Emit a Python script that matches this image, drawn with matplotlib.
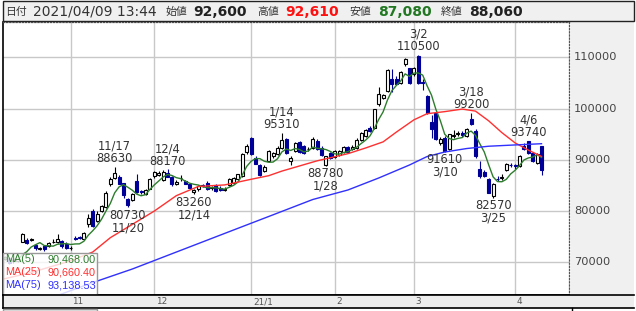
import numpy as np
import pandas as pd
import matplotlib
matplotlib.use('Agg')
import matplotlib.pyplot as plt
from matplotlib.patches import Rectangle
from matplotlib.transforms import blended_transform_factory

plt.rcParams['font.family'] = ['DejaVu Sans', 'Noto Sans CJK JP']

# 営業日 2020/10/06 - 2021/04/09
holidays = ['2020-11-03', '2020-11-23', '2020-12-31', '2021-01-01',
            '2021-01-11', '2021-02-11', '2021-02-23']
days = pd.bdate_range('2020-10-06', '2021-04-09', freq='C', holidays=holidays)

# 四本値 (月ごとに改行)
opens = [70300, 70500, 70800, 71000, 70700, 70900, 70200, 70300, 74050, 74400, 74300, 73350, 72650, 73200, 73200, 73900, 74000, 74200, 73650,
         72700, 74800, 74900, 74500, 77400, 80000, 78100, 80000, 80700, 85200, 86500, 86650, 85400, 82400, 82200, 85800, 83900, 83400, 84400,
         86800, 87000, 86100, 87500, 86700, 85300, 86400, 85900, 85200, 83700, 84250, 85000, 85550, 84500, 85000, 84500, 84200, 85000, 85500, 86200, 86850, 91500,
         94200, 90400, 88900, 87900, 89800, 90700, 91200, 92300, 94000, 89800, 91700, 93400, 92600, 92100, 92300, 93700, 92400, 89000, 91300,
         90600, 91000, 91500, 92500, 92200, 92300, 93900, 94700, 96200, 96300, 100800, 102100, 103400, 105700, 105800, 105000, 108600, 107900,
         106700, 110300, 105200, 102400, 97400, 99100, 93200, 94300, 92050, 94700, 95100, 95200, 94650, 98000, 95700, 88200, 87700, 86300, 83000, 86300, 86400, 88000, 89000,
         88900, 88800, 92700, 93650, 91250, 89300, 92600]
highs = [70800, 71100, 71400, 71300, 71300, 71000, 70600, 70900, 75800, 74650, 74700, 73600, 73000, 73400, 73900, 74600, 75450, 74400, 73900,
         73100, 75100, 75200, 75900, 79400, 80400, 80000, 81200, 83900, 86600, 88630, 87000, 85500, 82600, 83500, 87300, 84200, 84400, 86400,
         87900, 87800, 88000, 88170, 86900, 86000, 87000, 86100, 85300, 84300, 85100, 85300, 85800, 84900, 85300, 84800, 84600, 86400, 86700, 87300, 91300, 93000,
         94500, 90700, 89200, 88900, 91900, 91600, 92600, 95310, 94300, 90700, 93400, 93600, 92800, 92500, 94400, 94000, 92600, 90800, 91500,
         91900, 92000, 92700, 92700, 92800, 94300, 95500, 96000, 96500, 100000, 104300, 102900, 107800, 107800, 106400, 107400, 109900, 108000,
         108200, 110500, 105700, 102700, 98700, 99300, 94500, 94600, 95100, 95800, 95700, 95600, 96300, 99200, 96000, 89800, 88100, 86400, 85500, 86900, 87300, 89400, 89300,
         89200, 90900, 93200, 93740, 91500, 91300, 92610]
lows = [70000, 70200, 70600, 70400, 70500, 69700, 69900, 70000, 73900, 73500, 74100, 72400, 72400, 72300, 73000, 73700, 73800, 72800, 72500,
        72400, 74400, 74500, 74300, 76800, 76800, 77900, 79800, 80500, 84900, 86300, 85200, 82600, 80730, 81900, 83500, 83300, 83200, 84300,
        86500, 86800, 85900, 86600, 84900, 85000, 85900, 85200, 84300, 83260, 84000, 84700, 84200, 84200, 83800, 83900, 83900, 84900, 85400, 86000, 86700, 91100,
        91000, 89100, 86900, 87600, 89600, 90400, 90900, 92100, 91200, 88900, 91500, 91300, 91200, 91800, 92100, 91900, 90800, 88780, 90200,
        90400, 90800, 91300, 91400, 91900, 92100, 93700, 94500, 95400, 96100, 100500, 101800, 103200, 103300, 104700, 104800, 108400, 104800,
        106300, 104700, 103700, 99000, 94300, 93800, 92900, 91610, 91900, 94200, 94700, 94500, 94500, 96700, 90300, 86500, 86600, 83500, 82570, 85900, 86100, 87800, 88500,
        88200, 88600, 92000, 91100, 89600, 89100, 87080]
closes = [70500, 70800, 71000, 70600, 71000, 69900, 70400, 70700, 75450, 73850, 74450, 72700, 72750, 72550, 73700, 74050, 74600, 73100, 72800,
          72800, 74600, 74700, 75650, 78700, 77100, 79500, 81000, 83600, 86200, 87500, 85300, 83100, 81100, 83300, 83700, 83700, 84200, 86200,
          87700, 87500, 87600, 86700, 85200, 85600, 86500, 85350, 84550, 84100, 84900, 84850, 84400, 84600, 83950, 84100, 84300, 86200, 86500, 87150, 91050, 92700,
          91100, 89200, 87100, 88500, 91700, 91300, 92400, 93800, 91300, 90300, 93200, 91500, 91400, 92200, 94100, 92050, 91000, 90650, 90400,
          91700, 91750, 92550, 91550, 92500, 93950, 95300, 95800, 95650, 99850, 102750, 102700, 107500, 104700, 104850, 107200, 109600, 105050,
          107900, 105000, 105050, 99200, 95950, 94000, 94100, 91750, 94950, 94800, 95300, 94900, 96100, 96900, 90800, 86850, 86900, 83600, 85200, 86200, 86700, 89250, 88900,
          88700, 90750, 92200, 91270, 89770, 91050, 88060]

# 移動平均線 (チャートから読み取り)
ma25_dates = ['2020-10-06', '2020-10-12', '2020-10-20', '2020-11-02', '2020-11-10', '2020-11-16', '2020-11-24',
              '2020-12-01', '2020-12-08', '2020-12-15', '2020-12-23', '2021-01-04', '2021-01-08', '2021-01-14',
              '2021-01-20', '2021-01-26', '2021-02-01', '2021-02-04', '2021-02-10', '2021-02-17', '2021-02-22',
              '2021-03-01', '2021-03-04', '2021-03-10', '2021-03-16', '2021-03-19', '2021-03-24', '2021-03-29',
              '2021-04-01', '2021-04-06', '2021-04-09']
ma25_vals = [66200, 66800, 68000, 70300, 72000, 74800, 77400, 80000, 83000, 84800, 85100, 86200, 86900, 87800,
             88800, 89800, 90600, 91200, 92300, 93500, 95400, 97800, 99000, 99400, 99900, 99500, 97600, 95300,
             93300, 91900, 90660]
ma75_dates = ['2020-10-06', '2020-11-10', '2020-11-24', '2020-12-09', '2020-12-24', '2021-01-12', '2021-01-25',
              '2021-02-04', '2021-02-16', '2021-02-26', '2021-03-04', '2021-03-10', '2021-03-17', '2021-03-24',
              '2021-04-01', '2021-04-09']
ma75_vals = [58500, 66040, 68690, 72330, 75970, 79270, 82250, 84110, 86450, 88990, 90640, 91520, 92200, 92650,
             92900, 93140]

# 高値・安値の注記
marks = [('2020-11-17', 'high'), ('2020-11-20', 'low'), ('2020-12-04', 'high'), ('2020-12-14', 'low'),
         ('2021-01-14', 'high'), ('2021-01-28', 'low'), ('2021-03-02', 'high'), ('2021-03-10', 'low'),
         ('2021-03-18', 'high'), ('2021-03-25', 'low'), ('2021-04-06', 'high')]

month_labels = ['11', '12', '21/1', '2', '3', '4']
y_ticks = [70000, 80000, 90000, 100000, 110000]
legend_rows = [('MA(5)', '90,468.00', '#2e7d2e'), ('MA(25)', '90,660.40', '#ff3030'),
               ('MA(75)', '93,138.53', '#3030ff')]

W, H = 636, 311
def fx(px): return px / W
def fy(py): return 1 - py / H

fig = plt.figure(figsize=(W / 100, H / 100), dpi=100)
fig.patch.set_facecolor('white')

x = np.arange(len(days))
o, h, l, c = map(np.array, (opens, highs, lows, closes))
pos_nov = days.get_loc(pd.Timestamp('2020-11-02'))
px_per_day = 4.4
def xlim_for(px_left, px_right):
    return (pos_nov + (px_left - 70.7) / px_per_day, pos_nov + (px_right - 70.7) / px_per_day)

ylo, yhi = 63620, 116890

ax = fig.add_axes([fx(3), fy(295), fx(569) - fx(3), fy(22) - fy(295)])
ax.set_xlim(*xlim_for(3, 569))
ax.set_ylim(ylo, yhi)

month_pos = [days.get_indexer([d])[0] for d in
             days.to_series().groupby(days.to_period('M')).first().iloc[1:]]
ax.set_xticks(month_pos)
ax.set_yticks(y_ticks)
ax.tick_params(length=0, labelbottom=False, labelleft=False)
ax.grid(color='#c8c8c8', lw=1)
ax.set_axisbelow(True)
for s in ('left', 'bottom'):
    ax.spines[s].set_color('black')
    ax.spines[s].set_linewidth(1.2)
for s in ('top', 'right'):
    ax.spines[s].set_color('#555')
    ax.spines[s].set_linewidth(0.9)
    ax.spines[s].set_linestyle((0, (1, 1.5)))

# ローソク足
up = c >= o
down_col = '#000099'
body = np.maximum(np.abs(c - o), 80)
bottom = np.minimum(o, c)
ax.vlines(x[up], l[up], h[up], color='black', lw=0.8, zorder=3)
ax.vlines(x[~up], l[~up], h[~up], color=down_col, lw=0.8, zorder=3)
ax.bar(x[up], body[up], bottom=bottom[up], width=0.72, facecolor='white',
       edgecolor='black', lw=0.8, zorder=4)
ax.bar(x[~up], body[~up], bottom=bottom[~up], width=0.72, facecolor=down_col,
       edgecolor=down_col, lw=0.8, zorder=4)

# 移動平均
ma5 = pd.Series(closes).rolling(5).mean()
ax.plot(x, ma5, color='#2e7d2e', lw=1, zorder=5)
ax.plot(days.get_indexer(pd.to_datetime(ma25_dates)), ma25_vals, color='#ff3030', lw=1, zorder=5)
ax.plot(days.get_indexer(pd.to_datetime(ma75_dates)), ma75_vals, color='#3030ff', lw=1, zorder=5)

for d, kind in marks:
    i = days.get_loc(pd.Timestamp(d))
    lab = f'{days[i].month}/{days[i].day}'
    if kind == 'high':
        ax.annotate(f'{lab}\n{h[i]}', xy=(i, h[i]), xytext=(0, 1), textcoords='offset points',
                    ha='center', va='bottom', fontsize=8.3, color='#333', linespacing=0.95, zorder=7)
    else:
        ax.annotate(f'{l[i]}\n{lab}', xy=(i, l[i]), xytext=(0, -1), textcoords='offset points',
                    ha='center', va='top', fontsize=8.3, color='#333', linespacing=0.95, zorder=7)

# 凡例ボックス
bw, bh = (97 - 3) / 566, (295 - 253) / 273
ax.add_patch(Rectangle((0, 0), bw, bh, transform=ax.transAxes, facecolor=(1, 1, 1, 0.8),
                       edgecolor='#999', lw=1, zorder=8, clip_on=False))
for k, (name, val, col) in enumerate(legend_rows):
    yy = (295 - (259 + 13.2 * k)) / 273
    ax.text(2 / 566, yy, name, transform=ax.transAxes, color=col, fontsize=7.8,
            family='Liberation Sans', va='center', ha='left', zorder=9)
    ax.text(93 / 566, yy, val, transform=ax.transAxes, color=col, fontsize=7.8,
            family='Liberation Sans', va='center', ha='right', zorder=9)

# 右側の価格軸
axr = fig.add_axes([fx(571), fy(295), fx(634) - fx(571), fy(22) - fy(295)])
axr.set_facecolor('#f0f0f0')
axr.set_ylim(ylo, yhi)
axr.set_xticks([])
axr.set_yticks([])
for s in axr.spines.values():
    s.set_visible(False)
tr = blended_transform_factory(axr.transAxes, axr.transData)
for v in y_ticks:
    axr.text(0.05, v, str(v), transform=tr, va='center', ha='left', fontsize=8.2, color='#444')

# 日付軸
axs = fig.add_axes([fx(3), fy(307.5), fx(634) - fx(3), fy(295) - fy(307.5)])
axs.set_facecolor('#ededed')
axs.set_xlim(*xlim_for(3, 634))
axs.set_ylim(0, 1)
axs.set_xticks([])
axs.set_yticks([])
for s in ('top', 'bottom', 'left'):
    axs.spines[s].set_color('black')
    axs.spines[s].set_linewidth(1.2)
axs.spines['right'].set_visible(False)
for p, lab in zip(month_pos, month_labels):
    axs.text(p + 0.4, 0.45, lab, va='center', ha='left', fontsize=6.4, color='#555')

# 出来高パネルの上端
fig.patches.append(Rectangle((fx(3), 0), fx(97) - fx(3), fy(309) - 0, transform=fig.transFigure,
                             facecolor='white', edgecolor='#999', lw=1))
fig.lines.append(plt.Line2D([fx(572), fx(572)], [0, fy(308)], transform=fig.transFigure,
                            color='black', lw=1))

# ヘッダー
fig.patches.append(Rectangle((fx(3), fy(21)), fx(634) - fx(3), fy(1) - fy(21), transform=fig.transFigure,
                             facecolor='#f0f0f0', edgecolor='#222', lw=1, zorder=10))
hy = fy(11.5)
header = [(5, '日付', 7.8, 'normal', '#333'), (33, '2021/04/09 13:44', 10, 'normal', '#333'),
          (165, '始値', 7.8, 'normal', '#333'), (193, '92,600', 10, 'bold', '#222'),
          (257, '高値', 7.8, 'normal', '#333'), (285, '92,610', 10, 'bold', '#ff1010'),
          (349, '安値', 7.8, 'normal', '#333'), (378, '87,080', 10, 'bold', '#227722'),
          (441, '終値', 7.8, 'normal', '#333'), (469, '88,060', 10, 'bold', '#222')]
for px, txt, fs, fw, col in header:
    fig.text(fx(px), hy, txt, fontsize=fs, fontweight=fw, color=col, va='center', ha='left', zorder=11)

fig.savefig('out.png', dpi=100)
